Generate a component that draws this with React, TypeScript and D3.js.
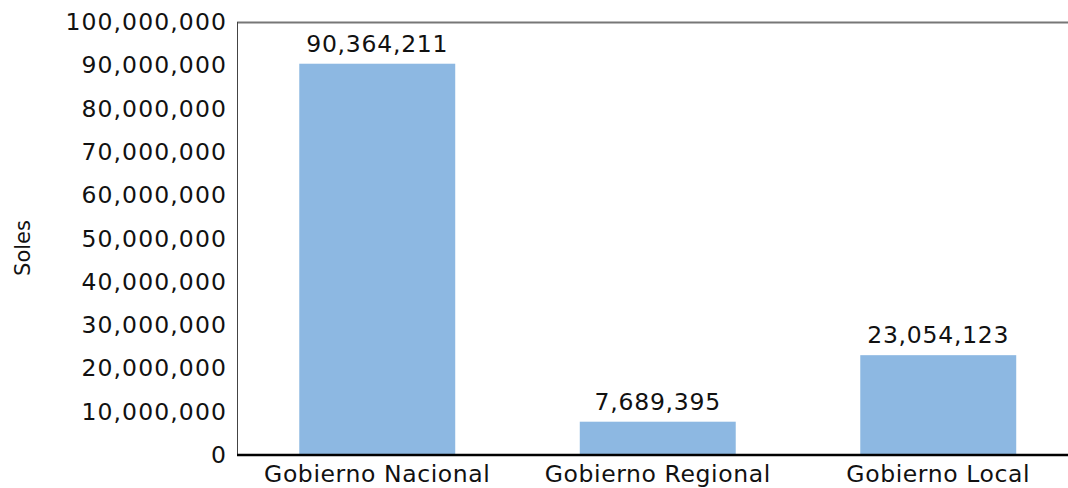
import React from "react";
import * as d3 from "d3";

const categories = ["Gobierno Nacional", "Gobierno Regional", "Gobierno Local"];
const values = [90364211, 7689395, 23054123];
const yTicks = [0, 10000000, 20000000, 30000000, 40000000, 50000000, 60000000, 70000000, 80000000, 90000000, 100000000];
const yLabel = "Soles";

const W = 1068;
const H = 488;
const left = 237;
const right = 1078.5;
const top = 22;
const bottom = 455;
const font = "'DejaVu Sans', Verdana, sans-serif";

export default function App() {
  const x = d3.scaleBand<string>().domain(categories).range([left, right]).paddingInner(0.444).paddingOuter(0.222);
  const y = d3.scaleLinear().domain([0, 100000000]).range([bottom, top]);
  const fmt = d3.format(",");
  return (
    <svg width={W} height={H} style={{ position: "absolute", left: 0, top: 0 }}>
      <rect x={0} y={0} width={W} height={H} fill="#fff" />
      {categories.map((c, i) => (
        <rect key={c} x={x(c)} y={y(values[i])} width={x.bandwidth()} height={y(0) - y(values[i])} fill="#8db8e2" />
      ))}
      <line x1={left} x2={W} y1={top + 0.5} y2={top + 0.5} stroke="#777" strokeWidth={2} />
      <line x1={left + 0.5} x2={left + 0.5} y1={top} y2={bottom} stroke="#444" strokeWidth={1} />
      <line x1={left} x2={W} y1={bottom} y2={bottom} stroke="#000" strokeWidth={2.5} />
      {yTicks.map((t) => (
        <text key={t} x={227} y={y(t)} textAnchor="end" dominantBaseline="central" fontFamily={font} fontSize={23.5} letterSpacing={1.1} fill="#111">
          {fmt(t)}
        </text>
      ))}
      {categories.map((c, i) => (
        <text key={c} x={(x(c) as number) + x.bandwidth() / 2} y={y(values[i]) - 12} textAnchor="middle" fontFamily={font} fontSize={23.5} letterSpacing={0.75} fill="#111">
          {fmt(values[i])}
        </text>
      ))}
      {categories.map((c) => (
        <text key={c} x={(x(c) as number) + x.bandwidth() / 2} y={482} textAnchor="middle" fontFamily={font} fontSize={23.5} letterSpacing={0.6} fill="#111">
          {c}
        </text>
      ))}
      <text transform={`translate(30,${248}) rotate(-90)`} textAnchor="middle" fontFamily={font} fontSize={21} fill="#111">
        {yLabel}
      </text>
    </svg>
  );
}
